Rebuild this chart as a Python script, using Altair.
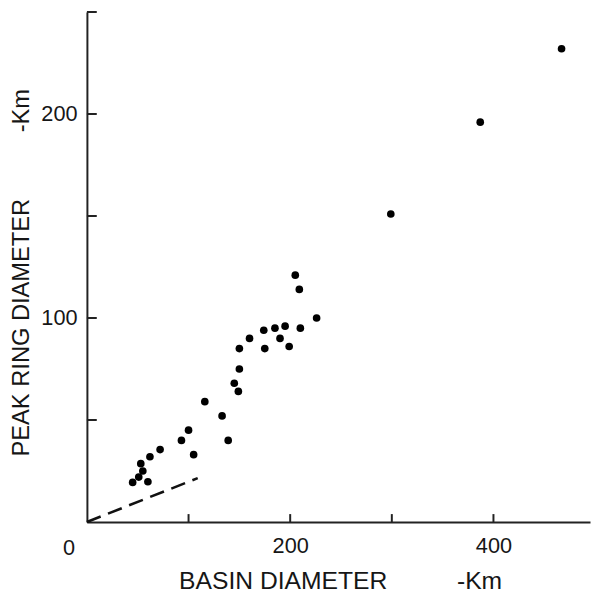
import altair as alt
import pandas as pd

# Basin diameter (km) and peak ring diameter (km)
basin = [467, 387, 299, 205, 209, 226, 174, 185, 195, 210, 160, 190, 150, 175, 199,
         150, 145, 149, 116, 133, 100, 93, 139, 105, 72, 62, 53, 55, 51, 45, 60]
peak = [232, 196, 151, 121, 114, 100, 94, 95, 96, 95, 90, 90, 85, 85, 86,
        75, 68, 64, 59, 52, 45, 40, 40, 33, 35.5, 32, 28.6, 25, 22, 19.4, 19.7]

# dashed reference line (peak ring = 0.2 x basin)
line_x = [0, 109]
line_y = [0, 21.5]

x_ticks = [100, 200, 300, 400]
y_ticks = [50, 100, 150, 200, 250]
x_labels = [200, 400]
y_labels = [100, 200]

W, H = 510, 517
FONT = "Liberation Sans"
INK = "#161616"

pts = pd.DataFrame({"basin": basin, "peak": peak})
ln = pd.DataFrame({"basin": line_x, "peak": line_y})
xt = pd.DataFrame({"v": x_ticks})
yt = pd.DataFrame({"v": y_ticks})
one = pd.DataFrame({"a": [0]})

xs = alt.Scale(domain=[0, 495], nice=False, zero=True)
ys = alt.Scale(domain=[0, 250], nice=False, zero=True)

xaxis = alt.Axis(values=x_labels, ticks=False, grid=False, title=None,
                 labelFontSize=22, labelFont=FONT, labelColor=INK, labelPadding=14,
                 domainColor="#222", domainWidth=2)
yaxis = alt.Axis(values=y_labels, ticks=False, grid=False, title=None,
                 labelFontSize=22, labelFont=FONT, labelColor=INK, labelPadding=10,
                 domainColor="#222", domainWidth=2)

points = alt.Chart(pts).mark_circle(size=60, color="#000", opacity=1).encode(
    x=alt.X("basin:Q", scale=xs, axis=xaxis),
    y=alt.Y("peak:Q", scale=ys, axis=yaxis),
)

dash = alt.Chart(ln).mark_line(color="#111", strokeWidth=2.6, strokeDash=[15, 8]).encode(
    x=alt.X("basin:Q", scale=xs),
    y=alt.Y("peak:Q", scale=ys),
)

yticks = alt.Chart(yt).mark_rule(color="#222", strokeWidth=2).encode(
    y=alt.Y("v:Q", scale=ys),
    x=alt.value(0),
    x2=alt.value(10),
)

xticks = alt.Chart(xt).mark_rule(color="#222", strokeWidth=2).encode(
    x=alt.X("v:Q", scale=xs),
    y=alt.value(H),
    y2=alt.value(H - 8),
)


def label(text, x, y, size, angle=0, align="center"):
    return alt.Chart(one).mark_text(
        font=FONT, fontSize=size, color=INK, angle=angle, align=align, baseline="middle"
    ).encode(x=alt.value(x), y=alt.value(y), text=alt.value(text))


texts = [
    label("0", -12, 543, 22, align="right"),
    label("BASIN DIAMETER", 199, 577, 25),
    label("-Km", 398, 577, 25),
    label("PEAK RING DIAMETER", -66, 320, 24, angle=270),
    label("-Km", -66, 100, 24, angle=270),
]

chart = alt.layer(dash, yticks, xticks, points, *texts).properties(
    width=W, height=H,
    padding={"left": 80, "top": 0, "right": 1, "bottom": 72},
    autosize=alt.AutoSizeParams(type="none"),
    background="white",
).configure_view(stroke=None)

chart.save("out.html", embed_options={"renderer": "svg", "actions": False})
